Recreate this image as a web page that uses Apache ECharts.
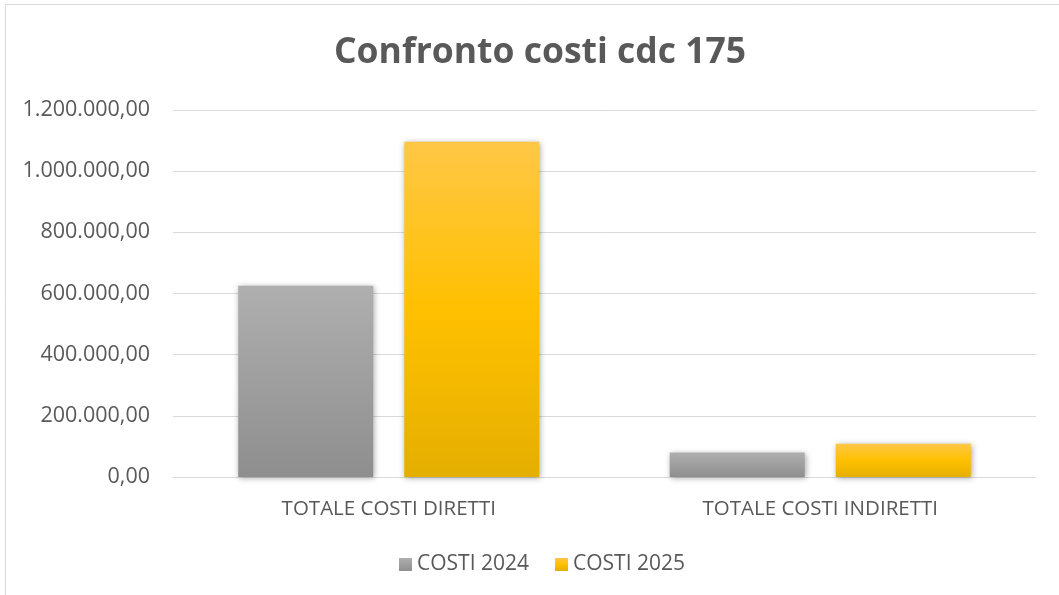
<!DOCTYPE html>
<html><head><meta charset="utf-8">
<script src="https://cdn.jsdelivr.net/npm/echarts@6/dist/echarts.min.js"></script>
<style>html,body{margin:0;padding:0;background:#fff}#c{width:1059px;height:595px}</style>
</head><body><div id="c"></div>
<script>
var categories = ['TOTALE COSTI DIRETTI', 'TOTALE COSTI INDIRETTI'];
var seriesNames = ['COSTI 2024', 'COSTI 2025'];
var costi2024 = [625000, 80000];
var costi2025 = [1096000, 109000];
var yTicks = [0, 200000, 400000, 600000, 800000, 1000000, 1200000];

function fmt(v){
  var s = Math.round(v).toString().replace(/\B(?=(\d{3})+(?!\d))/g, '.');
  return s + ',00';
}
var grayGrad = new echarts.graphic.LinearGradient(0,0,0,1,[{offset:0,color:'#afafaf'},{offset:1,color:'#8e8e8e'}]);
var goldGrad = new echarts.graphic.LinearGradient(0,0,0,1,[{offset:0,color:'#ffc746'},{offset:0.5,color:'#ffc000'},{offset:1,color:'#e5af00'}]);
var font = 'Open Sans';
var chart = echarts.init(document.getElementById('c'));
chart.setOption({
  animation:false,
  textStyle:{fontFamily:font},
  title:{text:'Confronto costi cdc 175',left:329,top:30,textStyle:{fontFamily:font,fontSize:35.5,fontWeight:'bold',color:'#595959'}},
  legend:{bottom:15,left:394,itemWidth:13,itemHeight:13,itemGap:26,icon:'rect',
    textStyle:{fontSize:21,color:'#595959',fontFamily:font},
    data:[{name:seriesNames[0],itemStyle:{color:grayGrad}},{name:seriesNames[1],itemStyle:{color:goldGrad}}]},
  grid:{left:173,right:23,top:110,bottom:118},
  xAxis:{type:'category',data:categories,
    axisLine:{lineStyle:{color:'#d9d9d9',width:1}},axisTick:{show:false},
    axisLabel:{fontSize:20.5,color:'#595959',margin:22,fontFamily:font}},
  yAxis:{type:'value',min:yTicks[0],max:yTicks[yTicks.length-1],interval:yTicks[1]-yTicks[0],
    axisLine:{show:false},axisTick:{show:false},
    splitLine:{lineStyle:{color:'#d9d9d9',width:1}},
    axisLabel:{fontSize:21.5,color:'#595959',margin:23,formatter:fmt,fontFamily:font}},
  series:[
    {name:seriesNames[0],type:'bar',data:costi2024,barWidth:135,barGap:'23%',
      itemStyle:{color:grayGrad,shadowColor:'rgba(0,0,0,0.35)',shadowBlur:6,shadowOffsetX:1,shadowOffsetY:1}},
    {name:seriesNames[1],type:'bar',data:costi2025,barWidth:135,barGap:'23%',
      itemStyle:{color:goldGrad,shadowColor:'rgba(0,0,0,0.35)',shadowBlur:6,shadowOffsetX:1,shadowOffsetY:1}}
  ],
  graphic:[{type:'rect',shape:{x:5.5,y:4.5,width:1070,height:620},style:{fill:null,stroke:'#d9d9d9',lineWidth:1},silent:true}]
});
</script></body></html>
